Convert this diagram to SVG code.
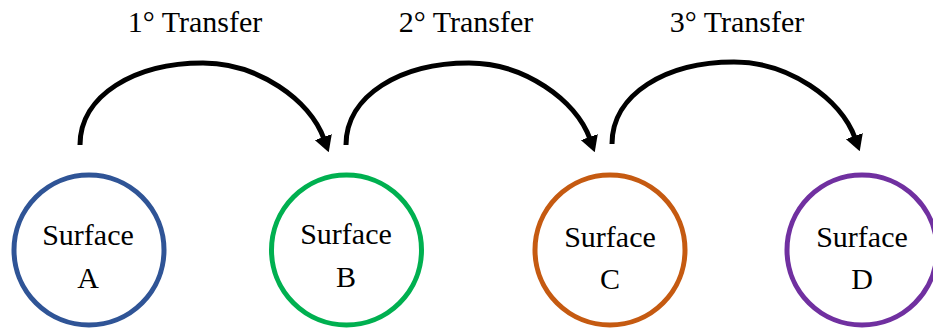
<svg xmlns="http://www.w3.org/2000/svg" width="933" height="331" viewBox="0 0 933 331">
<style>
.node circle{fill:#fff;stroke-width:5}
.lbl{font-family:"Liberation Serif","Times New Roman",serif;font-size:30px;fill:#000;text-anchor:middle}
.arc{fill:none;stroke:#000;stroke-width:5;stroke-linecap:butt}
</style>
<defs>
<marker id="ah" viewBox="0 0 16 18" refX="2" refY="9" markerWidth="16" markerHeight="18" markerUnits="userSpaceOnUse" orient="auto">
<path d="M0,0 L16,9 L0,18 z" fill="#000"/>
</marker>
</defs>
<rect width="933" height="331" fill="#fff"/>
<g id="connectors">
<g id="t1">
<path class="arc" d="M80,145 C80,95 135,63 203,63 C258,63 310,100 324,139" marker-end="url(#ah)"/>
<text class="lbl" x="195" y="32">1° Transfer</text>
</g>
<g id="t2" transform="translate(266,0)">
<path class="arc" d="M80,145 C80,95 135,63 203,63 C258,63 310,100 324,139" marker-end="url(#ah)"/>
<text class="lbl" x="200" y="32">2° Transfer</text>
</g>
<g id="t3" transform="translate(531,-1)">
<path class="arc" d="M81,145 C81,95 135,63 203,63 C258,63 310,100 324,139" marker-end="url(#ah)"/>
<text class="lbl" x="206" y="33">3° Transfer</text>
</g>
</g>
<g id="surfaceA" class="node">
<circle cx="89" cy="250" r="75" stroke="#2F5496"/>
<text class="lbl" x="88" y="245">Surface</text>
<text class="lbl" x="88" y="288">A</text>
</g>
<g id="surfaceB" class="node">
<circle cx="346.5" cy="250" r="75" stroke="#00B050"/>
<text class="lbl" x="346" y="244">Surface</text>
<text class="lbl" x="346" y="287">B</text>
</g>
<g id="surfaceC" class="node">
<circle cx="610" cy="250" r="75" stroke="#C55A11"/>
<text class="lbl" x="610" y="247">Surface</text>
<text class="lbl" x="610" y="289">C</text>
</g>
<g id="surfaceD" class="node">
<circle cx="862" cy="250" r="75" stroke="#7030A0"/>
<text class="lbl" x="862" y="247">Surface</text>
<text class="lbl" x="862" y="289">D</text>
</g>
</svg>
